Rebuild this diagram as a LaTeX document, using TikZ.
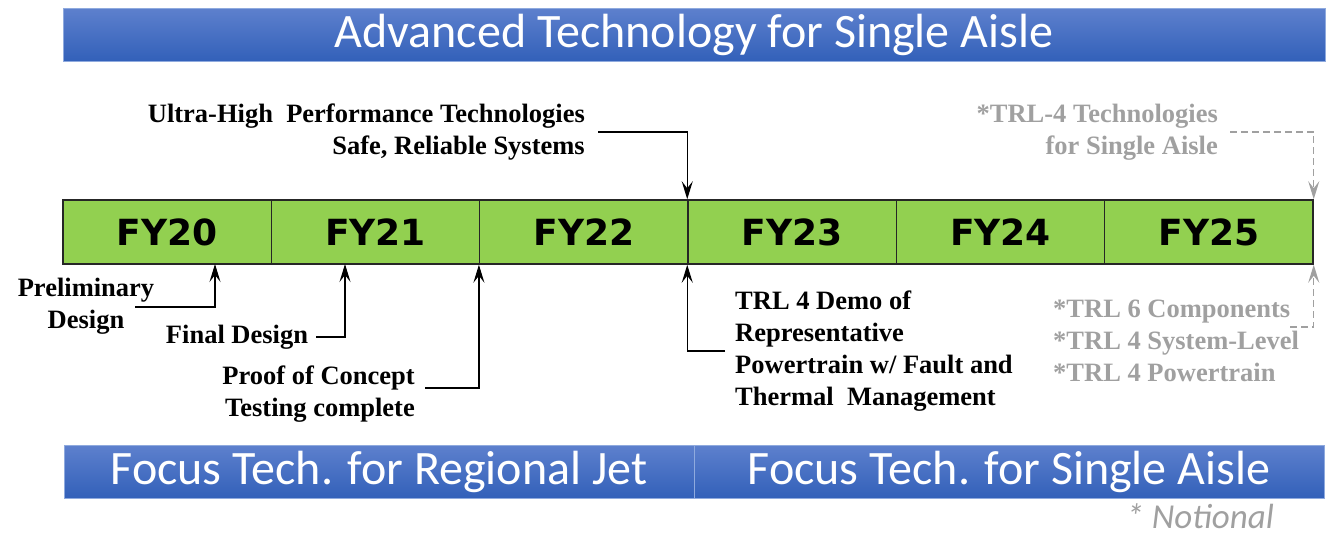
\documentclass[tikz,border=0pt]{standalone}
\usepackage{fontspec}
\usepackage{xcolor}
\usepackage{tikz}
\usetikzlibrary{arrows.meta,calc}
\setmainfont{Liberation Serif}
\newfontfamily\bannerfont{Carlito}
\newfontfamily\yearfont{DejaVu Sans}
\definecolor{bartop}{RGB}{93,128,205}
\definecolor{barbot}{RGB}{50,96,185}
\definecolor{baredge}{RGB}{143,170,222}
\definecolor{fygreen}{RGB}{146,208,80}
\definecolor{note}{RGB}{160,160,160}

\begin{document}
\begin{tikzpicture}[x=1pt,y=-1pt,
  banner/.style={draw=baredge,line width=1pt,top color=bartop,bottom color=barbot,
    text=white,minimum height=53pt,inner sep=0pt,font=\bannerfont\fontsize{48}{48}\selectfont},
  yearbox/.style={draw=black!85,line width=1.5pt,fill=fygreen,minimum width=208.33pt,
    minimum height=64pt,inner sep=0pt,font=\yearfont\bfseries\fontsize{36}{36}\selectfont},
  milestone/.style={font=\bfseries\fontsize{26.5}{32}\selectfont,inner sep=0pt},
  greytext/.style={milestone,text=note},
  conn/.style={draw=black,line width=1.2pt,-{Stealth[length=18pt,width=11pt,inset=7pt]}},
  dconn/.style={draw=note,line width=1.2pt,dash pattern=on 7pt off 4pt,
    -{Stealth[length=18pt,width=11pt,inset=7pt]}}]
\useasboundingbox (0,0) rectangle (1335,535);

\node[banner,minimum width=1262pt] (top) at (694,35) {Advanced Technology for Single Aisle};
\node[banner,minimum width=630pt] (regional) at (379,472) {Focus Tech. for Regional Jet};
\node[banner,minimum width=630pt] (single) at (1009,472) {Focus Tech. for Single Aisle};

\foreach \n [count=\i from 0] in {20,...,25}
  \node[yearbox] (fy\n) at ({167.17+208.33*\i},232) {FY\n};

\node[milestone,align=right,anchor=east] (ultra) at (585,132) {Ultra-High\ \ Performance Technologies\\Safe, Reliable Systems};
\node[milestone,align=center] (prelim) at (86,306) {Preliminary\\Design};
\node[milestone] (final) at (237,337) {Final Design};
\node[milestone,align=right,anchor=east] (proof) at (415,394) {Proof of Concept\\Testing complete};
\node[milestone,align=left,anchor=west] (demo) at (735,351) {TRL 4 Demo of\\Representative\\Powertrain w/ Fault and\\Thermal\ \ Management};

\node[greytext,align=right,anchor=east] (trlfour) at (1218,132) {*TRL-4 Technologies\\for Single Aisle};
\node[greytext,align=left,anchor=west] (trlsix) at (1053,341) {*TRL 6 Components\\*TRL 4 System-Level\\*TRL 4 Powertrain};

\node[text=note,inner sep=0pt,text depth=0pt,anchor=base east,font=\bannerfont\itshape\fontsize{35}{35}\selectfont] (notional) at (1274,528) {* Notional};

\coordinate (mprelim) at (215,264);
\coordinate (mfinal) at (345,264);
\coordinate (prelimend) at (135,307);
\coordinate (trlsixend) at (1290,327);

\draw[conn] ([xshift=13pt]ultra.east) -| (fy23.north west);
\draw[conn] (prelimend) -| (mprelim);
\draw[conn] ([xshift=8pt]final.east) -| (mfinal);
\draw[conn] ([xshift=10pt,yshift=6pt]proof.east) -| (fy22.south west);
\draw[conn] ([xshift=-10pt]demo.west) -| (fy23.south west);
\draw[dconn] ([xshift=12pt]trlfour.east) -| (fy25.north east);
\draw[dconn] (trlsixend) -| (fy25.south east);
\end{tikzpicture}
\end{document}
